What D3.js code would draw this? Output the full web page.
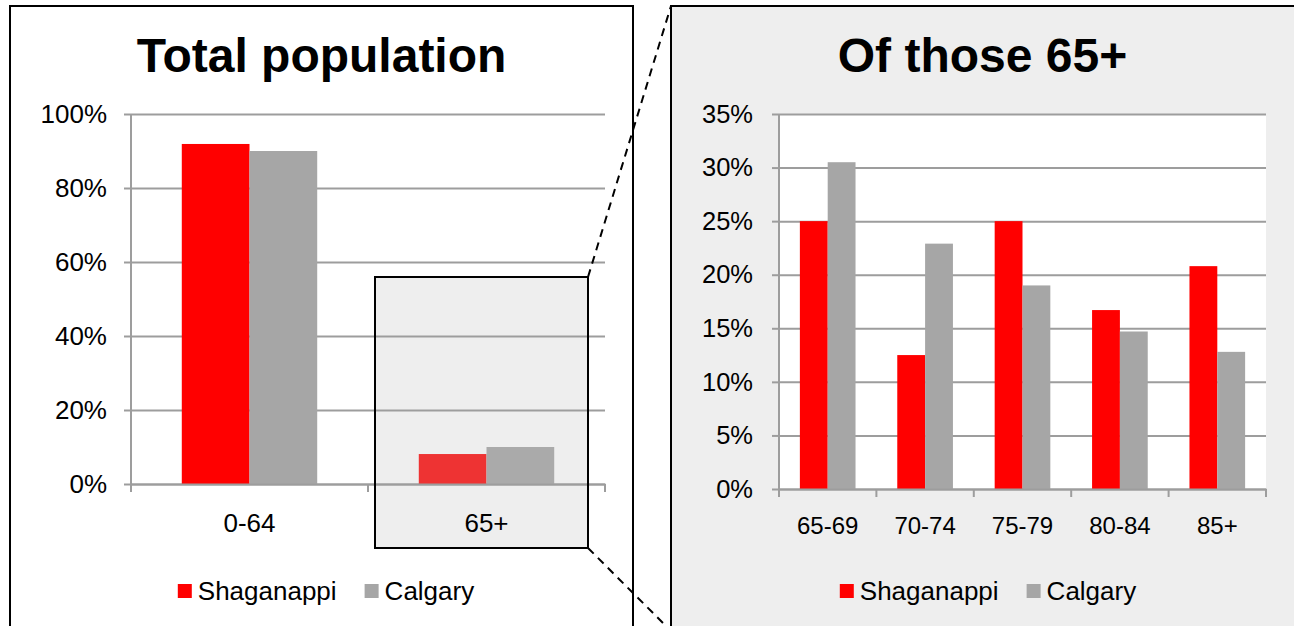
<!DOCTYPE html>
<html>
<head>
<meta charset="utf-8">
<script src="https://cdn.jsdelivr.net/npm/d3@7"></script>
<style>
  html, body { margin: 0; padding: 0; background: #fff; }
  svg { display: block; }
  text { font-family: "Liberation Sans", Arial, sans-serif; fill: #000; }
</style>
</head>
<body>
<svg id="chart" width="1294" height="626"></svg>
<script>
// data
const series = ["Shaganappi", "Calgary"];
const ageGroups = ["0-64", "65+"];
const totalShaganappi = [0.919, 0.081];
const totalCalgary = [0.900, 0.100];
const totalTicks = [0, 0.2, 0.4, 0.6, 0.8, 1.0];

const seniorGroups = ["65-69", "70-74", "75-79", "80-84", "85+"];
const seniorShaganappi = [0.25, 0.125, 0.25, 0.167, 0.208];
const seniorCalgary = [0.305, 0.229, 0.19, 0.147, 0.128];
const seniorTicks = [0, 0.05, 0.1, 0.15, 0.2, 0.25, 0.3, 0.35];

const highlightGroup = "65+";

// styles
const color = d3.scaleOrdinal().domain(series).range(["#ff0000", "#a6a6a6"]);
const highlightColor = d3.scaleOrdinal().domain(series).range(["#ee3333", "#aaaaaa"]);
const gridColor = "#9d9d9d";
const pct = d3.format(".0%");

const svg = d3.select("#chart");

// panels
svg.append("rect")
  .attr("x", 10).attr("y", 6).attr("width", 623).attr("height", 660)
  .attr("fill", "#fff").attr("stroke", "#000").attr("stroke-width", 2);

svg.append("rect")
  .attr("x", 671).attr("y", 6).attr("width", 660).attr("height", 660)
  .attr("fill", "#eeeeee").attr("stroke", "#000").attr("stroke-width", 2);

function drawChart(cfg) {
  const g = svg.append("g");
  const rows = cfg.cats.map((c, i) => ({
    cat: c,
    values: series.map((s, j) => ({ cat: c, key: s, value: cfg.values[j][i] }))
  }));

  const x0 = d3.scaleBand().domain(cfg.cats).range([cfg.left, cfg.right]);
  const x1 = d3.scaleBand().domain(series).range([0, x0.bandwidth()]).paddingOuter(0.75);
  const y = d3.scaleLinear().domain([0, d3.max(cfg.ticks)]).range([cfg.bottom, cfg.top]);

  // title
  g.append("text")
    .attr("x", cfg.center).attr("y", 72)
    .attr("text-anchor", "middle")
    .style("font-size", "48px").style("font-weight", "bold")
    .text(cfg.title);

  // plot background
  if (cfg.plotFill) {
    g.append("rect")
      .attr("x", cfg.left).attr("y", cfg.top)
      .attr("width", cfg.right - cfg.left).attr("height", cfg.bottom - cfg.top)
      .attr("fill", cfg.plotFill);
  }

  if (cfg.beforeGrid) cfg.beforeGrid(g, x0, y);

  // gridlines
  g.append("g")
    .attr("transform", `translate(${cfg.left},0)`)
    .call(d3.axisLeft(y).tickValues(cfg.ticks).tickSize(-(cfg.right - cfg.left)).tickFormat(""))
    .call(a => a.select(".domain").remove())
    .call(a => a.selectAll("line").attr("stroke", gridColor).attr("stroke-width", 2));

  // y axis
  g.append("g")
    .attr("transform", `translate(${cfg.left},0)`)
    .call(d3.axisLeft(y).tickValues(cfg.ticks).tickSize(7).tickPadding(cfg.yPad).tickFormat(pct))
    .call(a => a.select(".domain").attr("stroke", gridColor).attr("stroke-width", 2)
      .attr("d", `M0,${cfg.top}V${cfg.bottom}`))
    .call(a => a.selectAll("line").attr("stroke", gridColor).attr("stroke-width", 2))
    .call(a => a.selectAll("text").style("font-size", cfg.yFont + "px").attr("fill", "#000")
      .attr("font-family", null));

  // bars
  g.append("g")
    .selectAll("g")
    .data(rows)
    .join("g")
    .attr("transform", d => `translate(${x0(d.cat)},0)`)
    .selectAll("rect")
    .data(d => d.values)
    .join("rect")
    .attr("x", d => x1(d.key))
    .attr("y", d => y(d.value))
    .attr("width", x1.bandwidth())
    .attr("height", d => y(0) - y(d.value))
    .attr("fill", d => d.cat === cfg.highlight ? highlightColor(d.key) : color(d.key));

  // x axis
  const xg = g.append("g").attr("transform", `translate(0,${cfg.bottom})`);
  xg.call(d3.axisBottom(x0).tickSize(0).tickPadding(cfg.xPad))
    .call(a => a.select(".domain").attr("stroke", gridColor).attr("stroke-width", 2))
    .call(a => a.selectAll("text").style("font-size", cfg.xFont + "px").attr("fill", "#000")
      .attr("font-family", null));
  xg.selectAll("line.sep")
    .data(cfg.cats.map(c => x0(c)).concat([cfg.right]))
    .join("line")
    .attr("class", "sep")
    .attr("x1", d => d).attr("x2", d => d)
    .attr("y1", 0).attr("y2", 8)
    .attr("stroke", gridColor).attr("stroke-width", 2);

  // legend
  const leg = g.append("g").attr("transform", `translate(0,600)`);
  const items = leg.selectAll("g").data(series).join("g");
  items.append("rect")
    .attr("y", -16).attr("width", 14).attr("height", 14)
    .attr("fill", d => color(d));
  items.append("text")
    .attr("x", 20)
    .style("font-size", "26px")
    .text(d => d);
  let widths = [];
  items.each(function () { widths.push(20 + this.querySelector("text").getComputedTextLength()); });
  const gap = 28;
  const total = d3.sum(widths) + gap * (widths.length - 1);
  let cx = cfg.legendCenter - total / 2;
  items.attr("transform", (d, i) => {
    const t = `translate(${cx},0)`;
    cx += widths[i] + gap;
    return t;
  });

  return { x0, y };
}

// left chart: total population
let box = null;
drawChart({
  title: "Total population",
  center: 321.5,
  cats: ageGroups,
  values: [totalShaganappi, totalCalgary],
  ticks: totalTicks,
  left: 131, right: 605, top: 114, bottom: 484,
  yPad: 17, yFont: 26, xPad: 30, xFont: 26,
  legendCenter: 326,
  highlight: highlightGroup,
  beforeGrid: (g, x0, y) => {
    const bx0 = x0(highlightGroup) + 7;
    const bx1 = x0(highlightGroup) + x0.bandwidth() - 17;
    box = { x: bx0, y: 277, w: bx1 - bx0, h: 548 - 277 };
    g.append("rect")
      .attr("x", box.x).attr("y", box.y).attr("width", box.w).attr("height", box.h)
      .attr("fill", "#eeeeee");
  }
});

// right chart: of those 65+
drawChart({
  title: "Of those 65+",
  center: 982.5,
  cats: seniorGroups,
  values: [seniorShaganappi, seniorCalgary],
  ticks: seniorTicks,
  left: 779, right: 1266, top: 114, bottom: 489,
  plotFill: "#fff",
  yPad: 19, yFont: 25.5, xPad: 28, xFont: 24,
  legendCenter: 988
});

// highlight box outline and zoom lines
svg.append("rect")
  .attr("x", box.x).attr("y", box.y).attr("width", box.w).attr("height", box.h)
  .attr("fill", "none").attr("stroke", "#000").attr("stroke-width", 2);

const zoomLines = [
  [[box.x + box.w, box.y], [671, 6]],
  [[box.x + box.w, box.y + box.h], [671, 631]]
];
svg.append("g")
  .selectAll("path")
  .data(zoomLines)
  .join("path")
  .attr("d", d => d3.line()(d))
  .attr("fill", "none")
  .attr("stroke", "#000")
  .attr("stroke-width", 2)
  .attr("stroke-dasharray", "8,6");
</script>
</body>
</html>
